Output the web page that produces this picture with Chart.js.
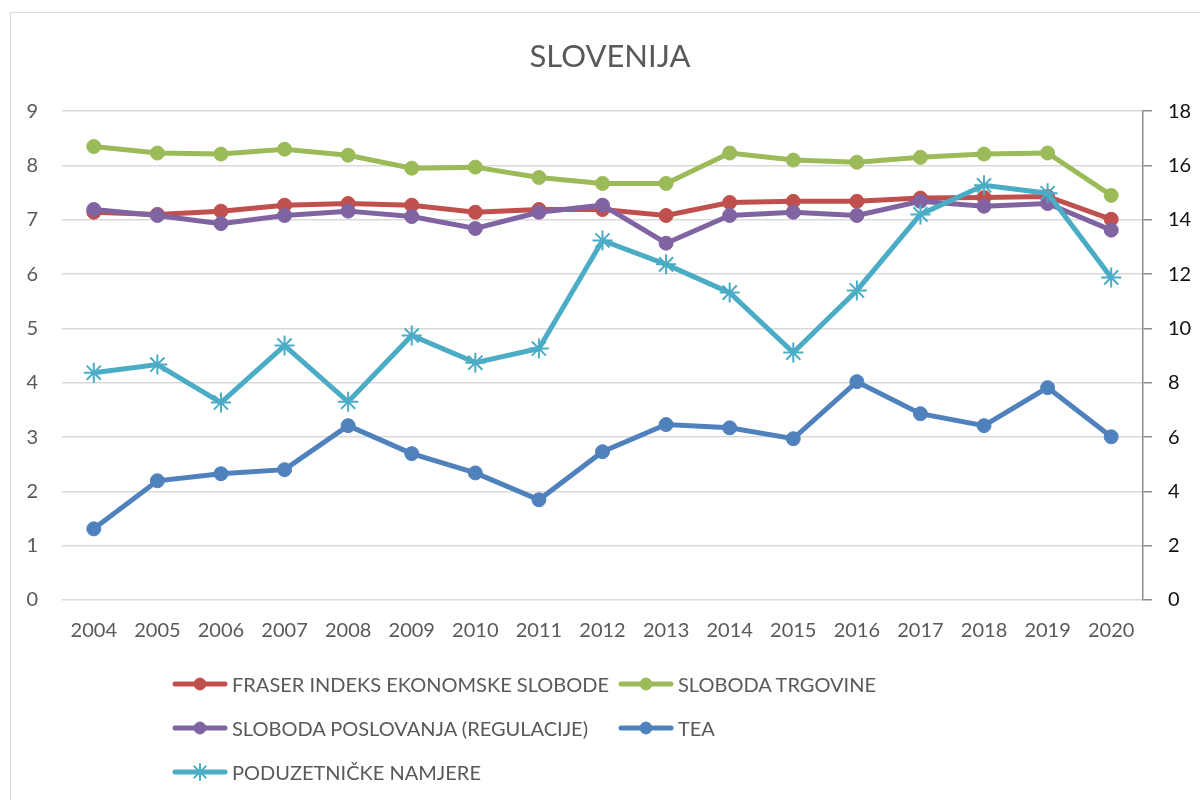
<!DOCTYPE html>
<html>
<head>
<meta charset="utf-8">
<script src="https://cdn.jsdelivr.net/npm/chart.js@4.4.1/dist/chart.umd.min.js"></script>
<style>
  html, body { margin: 0; padding: 0; background: #fff; overflow: hidden; }
  #wrap { position: relative; width: 1200px; height: 800px; }
  #frame { position: absolute; left: 10px; top: 12px; width: 1200px; height: 800px; border: 1.5px solid #d9d9d9; box-sizing: border-box; }
  canvas { position: absolute; left: 0; top: 0; }
  #legend { position: absolute; left: 172px; top: 662px; display: grid; grid-template-columns: 446px 300px; grid-auto-rows: 44px; font-family: Lato, sans-serif; font-size: 20px; color: #595959; }
  .item { display: flex; align-items: center; white-space: nowrap; }
  .item canvas { position: static; margin-right: 4px; }
</style>
</head>
<body>
<div id="wrap">
  <div id="frame"></div>
  <canvas id="chart" width="1200" height="800"></canvas>
  <div id="legend"></div>
</div>
<script>
// ---------- data ----------
const years = ['2004','2005','2006','2007','2008','2009','2010','2011','2012','2013','2014','2015','2016','2017','2018','2019','2020'];

const fraserIndeks   = [7.14, 7.10, 7.16, 7.27, 7.30, 7.27, 7.14, 7.19, 7.19, 7.08, 7.32, 7.34, 7.34, 7.40, 7.41, 7.43, 7.01];
const slobodaTrg     = [8.35, 8.23, 8.21, 8.30, 8.19, 7.95, 7.97, 7.78, 7.67, 7.67, 8.23, 8.10, 8.06, 8.15, 8.21, 8.23, 7.45];
const slobodaPosl    = [7.19, 7.08, 6.93, 7.08, 7.16, 7.06, 6.84, 7.14, 7.27, 6.57, 7.08, 7.14, 7.08, 7.34, 7.25, 7.30, 6.81];
const tea            = [2.62, 4.39, 4.65, 4.80, 6.42, 5.39, 4.68, 3.69, 5.46, 6.46, 6.34, 5.94, 8.04, 6.86, 6.42, 7.82, 6.01];
const namjere        = [8.37, 8.67, 7.27, 9.37, 7.30, 9.74, 8.74, 9.26, 13.24, 12.36, 11.32, 9.11, 11.40, 14.20, 15.27, 14.98, 11.88];

const leftTicks  = [0, 1, 2, 3, 4, 5, 6, 7, 8, 9];
const rightTicks = [0, 2, 4, 6, 8, 10, 12, 14, 16, 18];

// ---------- helpers ----------
function series(label, data, color, axis, order, star) {
    return {
        label: label,
        data: data,
        yAxisID: axis,
        order: order,
        borderColor: color,
        backgroundColor: color,
        borderWidth: 5,
        pointStyle: star ? 'star' : 'circle',
        pointRadius: star ? 10 : 7,
        pointBorderWidth: star ? 2 : 1,
        pointBackgroundColor: color,
        pointBorderColor: color,
        tension: 0
    };
}

const grey = '#595959';

const chart = new Chart(document.getElementById('chart'), {
    type: 'line',
    data: {
        labels: years,
        datasets: [
            series('FRASER INDEKS EKONOMSKE SLOBODE', fraserIndeks, '#C0504D', 'y', 5),
            series('SLOBODA TRGOVINE', slobodaTrg, '#9BBB59', 'y', 4),
            series('SLOBODA POSLOVANJA (REGULACIJE)', slobodaPosl, '#8064A2', 'y', 3),
            series('TEA', tea, '#4F81BD', 'y1', 2),
            series('PODUZETNIČKE NAMJERE', namjere, '#4BACC6', 'y1', 1, true)
        ]
    },
    options: {
        responsive: false,
        animation: false,
        layout: { padding: { left: 20, right: 0, top: 0, bottom: 138 } },
        plugins: {
            legend: { display: false },
            tooltip: { enabled: false },
            title: {
                display: true,
                text: 'SLOVENIJA',
                color: grey,
                font: { family: 'Lato', size: 31, weight: 'normal' },
                padding: { top: 38, bottom: 36 }
            }
        },
        scales: {
            x: {
                offset: true,
                grid: { display: false, drawTicks: false },
                border: { display: false },
                ticks: { color: grey, font: { family: 'Lato', size: 20 }, padding: 19, maxRotation: 0 }
            },
            y: {
                position: 'left',
                min: 0, max: 9,
                afterBuildTicks: s => { s.ticks = leftTicks.map(v => ({ value: v })); },
                afterFit: s => { s.width = 42; },
                grid: { color: '#d9d9d9', lineWidth: 1.5, drawTicks: false },
                border: { display: false },
                ticks: { color: grey, font: { family: 'Lato', size: 20 }, padding: 24 }
            },
            y1: {
                position: 'right',
                min: 0, max: 18,
                afterBuildTicks: s => { s.ticks = rightTicks.map(v => ({ value: v })); },
                afterFit: s => { s.width = 57; },
                grid: { drawOnChartArea: false, drawTicks: true, tickLength: 9, color: '#8c8c8c', lineWidth: 1.5 },
                border: { display: true, color: '#8c8c8c', width: 1.5 },
                ticks: { color: '#111', font: { family: 'Lato', size: 20 }, padding: 16 }
            }
        }
    }
});

// ---------- legend (excel-like two column layout) ----------
const legendBox = document.getElementById('legend');
chart.data.datasets.forEach(ds => {
    const item = document.createElement('div');
    item.className = 'item';
    const c = document.createElement('canvas');
    c.width = 56; c.height = 20;
    const ctx = c.getContext('2d');
    ctx.strokeStyle = ds.borderColor;
    ctx.fillStyle = ds.borderColor;
    ctx.lineWidth = 5;
    ctx.lineCap = 'round';
    ctx.beginPath(); ctx.moveTo(3, 10); ctx.lineTo(53, 10); ctx.stroke();
    ctx.lineWidth = ds.pointBorderWidth;
    Chart.helpers.drawPoint(ctx, {
        pointStyle: ds.pointStyle, radius: ds.pointStyle === 'star' ? 8 : 6, borderWidth: ds.pointBorderWidth, rotation: 0
    }, 28, 10);
    const span = document.createElement('span');
    span.textContent = ds.label;
    item.appendChild(c);
    item.appendChild(span);
    legendBox.appendChild(item);
});
</script>
</body>
</html>
